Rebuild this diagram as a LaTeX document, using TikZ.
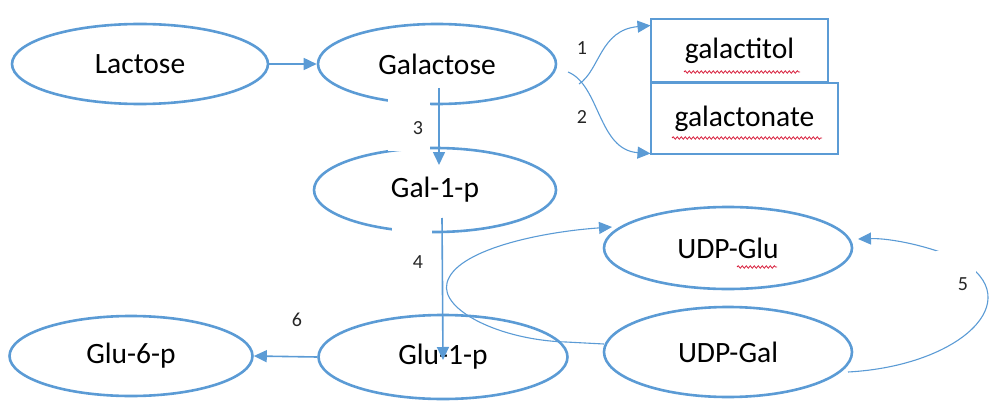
\documentclass[tikz,border=0pt]{standalone}
\usepackage{fontspec}
\setmainfont{Carlito}
\usetikzlibrary{arrows.meta,decorations.pathmorphing,shapes.geometric}
\definecolor{ob}{RGB}{91,155,213}
\definecolor{wavy}{RGB}{215,30,60}
\begin{document}
\begin{tikzpicture}[x=1pt,y=-1pt,
  ell/.style={draw=ob,line width=2.6pt,ellipse,inner sep=0pt,font=\fontsize{29.5}{34}\selectfont},
  boxnode/.style={draw=ob,line width=2.6pt,rectangle,inner sep=0pt,font=\fontsize{29.5}{34}\selectfont},
  con/.style={draw=ob,line width=1.6pt,-{Triangle[length=13pt,width=12pt]}},
  thincon/.style={draw=ob,line width=1.1pt,-{Triangle[length=13pt,width=12pt]}},
  num/.style={font=\fontsize{20}{24}\selectfont,text=black!85,inner sep=1pt},
  squig/.style={draw=wavy,line width=0.8pt,decorate,decoration={snake,amplitude=1.2pt,segment length=4pt}}]
\useasboundingbox (0,0) rectangle (992,401);

% ellipses
\node[ell,minimum width=256,minimum height=80] (lac) at (140,64) {Lactose};
\node[ell,minimum width=238,minimum height=80] (gal) at (437,64) {Galactose};
\node[ell,minimum width=242,minimum height=84] (galp) at (435,190) {Gal-1-p};
\node[ell,minimum width=249,minimum height=84] (glup) at (443,357) {Glu-1-p};
\node[ell,minimum width=243,minimum height=80] (glu6) at (131,356) {Glu-6-p};
\node[ell,minimum width=248,minimum height=82] (udpglu) at (728,248) {UDP-Glu};
\node[ell,minimum width=248,minimum height=90] (udpgal) at (728,352) {UDP-Gal};

% boxes
\node[boxnode,minimum width=177,minimum height=63] (gtol) at (739.5,50.5) {\raisebox{-6pt}{galactitol}};
\node[boxnode,minimum width=187,minimum height=71] (gnat) at (744.5,118.5) {\raisebox{-5pt}{galactonate}};

% spell-check underlines
\draw[squig] (684,72) -- (800,72);
\draw[squig] (672,138) -- (822,138);
\draw[squig] (737,267) -- (777,267);

% gaps cut by the number labels
\fill[white] (388,95) rectangle (430,151);
\fill[white] (392,224) rectangle (432,300);

% coordinates for connector ends
\coordinate (g1s) at ([shift={(142,20)}]gal.center);
\coordinate (g2s) at ([shift={(131,8)}]gal.center);
\coordinate (t1) at ([shift={(-89,-25)}]gtol.center);
\coordinate (t2) at ([shift={(-94,35)}]gnat.center);
\coordinate (a3s) at ([shift={(2,24)}]gal.center);
\coordinate (a3e) at ([shift={(4,-25)}]galp.center);
\coordinate (a4s) at ([shift={(7,28)}]galp.center);
\coordinate (a4e) at ([shift={(0,3)}]glup.center);
\coordinate (l5s) at ([shift={(120,20)}]udpgal.center);
\coordinate (l5e) at ([shift={(130,-9)}]udpglu.center);
\coordinate (lps) at ([shift={(-124,-8)}]udpgal.center);
\coordinate (lpe) at ([shift={(-116,-21)}]udpglu.center);

% straight connectors
\draw[con] (lac.east) -- (gal.west);
\draw[con] (a3s) -- (a3e);
\draw[con] (a4s) -- (a4e);
\draw[con] (glup.west) -- (glu6.east);

% curved connectors 1 and 2 (they cross)
\draw[thincon] (g1s) .. controls (600,70) and (600,30) .. (t1);
\draw[thincon] (g2s) .. controls (600,85) and (598,150) .. (t2);

% loop between UDP-Gal and UDP-Glu
\draw[thincon] (lps) -- (566,342) .. controls (500,340) and (440,310) .. (447,283)
  .. controls (455,250) and (540,232) .. (lpe);

% loop 5
\draw[thincon] (l5s) .. controls (960,366) and (1030,300) .. (960,260)
  .. controls (930,246) and (890,238) .. (l5e);
\fill[white] (936,251) rectangle (976,300);

% numbers
\node[num] (n1) at (582,48) {1};
\node[num] (n2) at (582,117) {2};
\node[num] (n3) at (418,128) {3};
\node[num] (n4) at (418,262) {4};
\node[num] (n5) at (963,284) {5};
\node[num] (n6) at (297,320) {6};
\end{tikzpicture}
\end{document}
